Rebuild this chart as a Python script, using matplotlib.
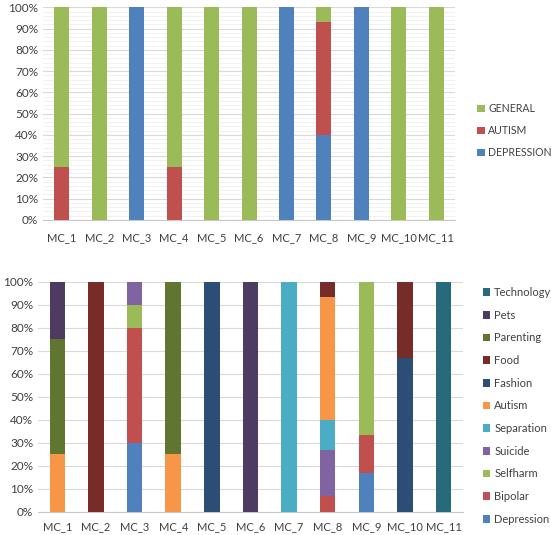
import matplotlib
matplotlib.use("Agg")
import matplotlib.pyplot as plt
import matplotlib.ticker as ticker
import numpy as np

# ── Datos ─────────────────────────────────────────────────────────────────────
CATEGORIAS = ["MC_1", "MC_2", "MC_3", "MC_4", "MC_5", "MC_6",
              "MC_7", "MC_8", "MC_9", "MC_10", "MC_11"]

# Gráfico superior (porcentajes)
top_depression = [0, 0, 100, 0, 0, 0, 100, 40, 100, 0, 0]
top_autism     = [25, 0, 0, 25, 0, 0, 0, 53.33, 0, 0, 0]
top_general    = [75, 100, 0, 75, 100, 100, 0, 6.67, 0, 100, 100]

# Gráfico inferior (porcentajes)
bot_depression = [0, 0, 30, 0, 0, 0, 0, 0, 16.67, 0, 0]
bot_bipolar    = [0, 0, 50, 0, 0, 0, 0, 6.67, 16.67, 0, 0]
bot_selfharm   = [0, 0, 10, 0, 0, 0, 0, 0, 66.67, 0, 0]
bot_suicide    = [0, 0, 10, 0, 0, 0, 0, 20, 0, 0, 0]
bot_separation = [0, 0, 0, 0, 0, 0, 100, 13.33, 0, 0, 0]
bot_autism     = [25, 0, 0, 25, 0, 0, 0, 53.33, 0, 0, 0]
bot_fashion    = [0, 0, 0, 0, 100, 0, 0, 0, 0, 66.67, 0]
bot_food       = [0, 100, 0, 0, 0, 0, 0, 6.67, 0, 33.33, 0]
bot_parenting  = [50, 0, 0, 75, 0, 0, 0, 0, 0, 0, 0]
bot_pets       = [25, 0, 0, 0, 0, 100, 0, 0, 0, 0, 0]
bot_technology = [0, 0, 0, 0, 0, 0, 0, 0, 0, 0, 100]

SERIES_TOP = [
    ("DEPRESSION", top_depression, "#4F81BD"),
    ("AUTISM",     top_autism,     "#C0504D"),
    ("GENERAL",    top_general,    "#9BBB59"),
]

SERIES_BOT = [
    ("Depression", bot_depression, "#4F81BD"),
    ("Bipolar",    bot_bipolar,    "#C0504D"),
    ("Selfharm",   bot_selfharm,   "#9BBB59"),
    ("Suicide",    bot_suicide,    "#8064A2"),
    ("Separation", bot_separation, "#4BACC6"),
    ("Autism",     bot_autism,     "#F79646"),
    ("Fashion",    bot_fashion,    "#2C4D75"),
    ("Food",       bot_food,       "#772C2A"),
    ("Parenting",  bot_parenting,  "#5F7530"),
    ("Pets",       bot_pets,       "#4D3B62"),
    ("Technology", bot_technology, "#276A7C"),
]

TEXT_COLOR = "#404040"
plt.rcParams["font.family"] = ["Lato", "DejaVu Sans"]


def apilar(ax, series):
    x = np.arange(len(CATEGORIAS))
    base = np.zeros(len(CATEGORIAS))
    handles = []
    for nombre, vals, color in series:
        vals = np.array(vals, dtype=float)
        h = ax.bar(x, vals, bottom=base, width=0.4, color=color,
                   label=nombre, zorder=3)
        handles.append(h)
        base += vals
    ax.set_xticks(x)
    ax.set_xticklabels(CATEGORIAS)
    ax.set_xlim(-0.5, len(CATEGORIAS) - 0.5)
    ax.set_ylim(0, 100)
    ax.yaxis.set_major_locator(ticker.MultipleLocator(10))
    ax.yaxis.set_major_formatter(ticker.FuncFormatter(lambda v, p: f"{v:.0f}%"))
    ax.tick_params(length=0, labelsize=8.5, colors=TEXT_COLOR)
    ax.tick_params(axis="x", labelsize=8)
    for lado in ["top", "right", "left"]:
        ax.spines[lado].set_visible(False)
    ax.spines["bottom"].set_color("#C8C8C8")
    ax.yaxis.grid(True, which="major", color="#D9D9D9", linewidth=0.8, zorder=0)
    return handles


def leyenda(handles, x, y, tam, espacio):
    fig.legend(handles=handles, loc="upper left", bbox_to_anchor=(x, y),
               frameon=False, fontsize=tam, labelcolor=TEXT_COLOR,
               handlelength=0.7, handleheight=0.7, handletextpad=0.35,
               labelspacing=espacio, borderpad=0, borderaxespad=0)


fig = plt.figure(figsize=(5.51, 5.35), dpi=100)

# ── Gráfico superior ──────────────────────────────────────────────────────────
ax1 = fig.add_axes([0.078, 0.589, 0.748, 0.397])
h1 = apilar(ax1, SERIES_TOP)
ax1.yaxis.set_minor_locator(ticker.MultipleLocator(2))
ax1.yaxis.grid(True, which="minor", color="#EFEFEF", linewidth=0.6, zorder=0)
ax1.tick_params(axis="y", which="minor", length=0)
ax1.tick_params(axis="x", pad=9)
leyenda(h1[::-1], 0.866, 1 - 103 / 535, 7.6, 1.05)

# ── Gráfico inferior ──────────────────────────────────────────────────────────
ax2 = fig.add_axes([0.069, 0.0436, 0.771, 0.430])
h2 = apilar(ax2, SERIES_BOT)
ax2.tick_params(axis="x", pad=7)
leyenda(h2[::-1], 0.876, 1 - 287 / 535, 8, 1.05)

plt.savefig("out.png", dpi=100)
plt.close()
